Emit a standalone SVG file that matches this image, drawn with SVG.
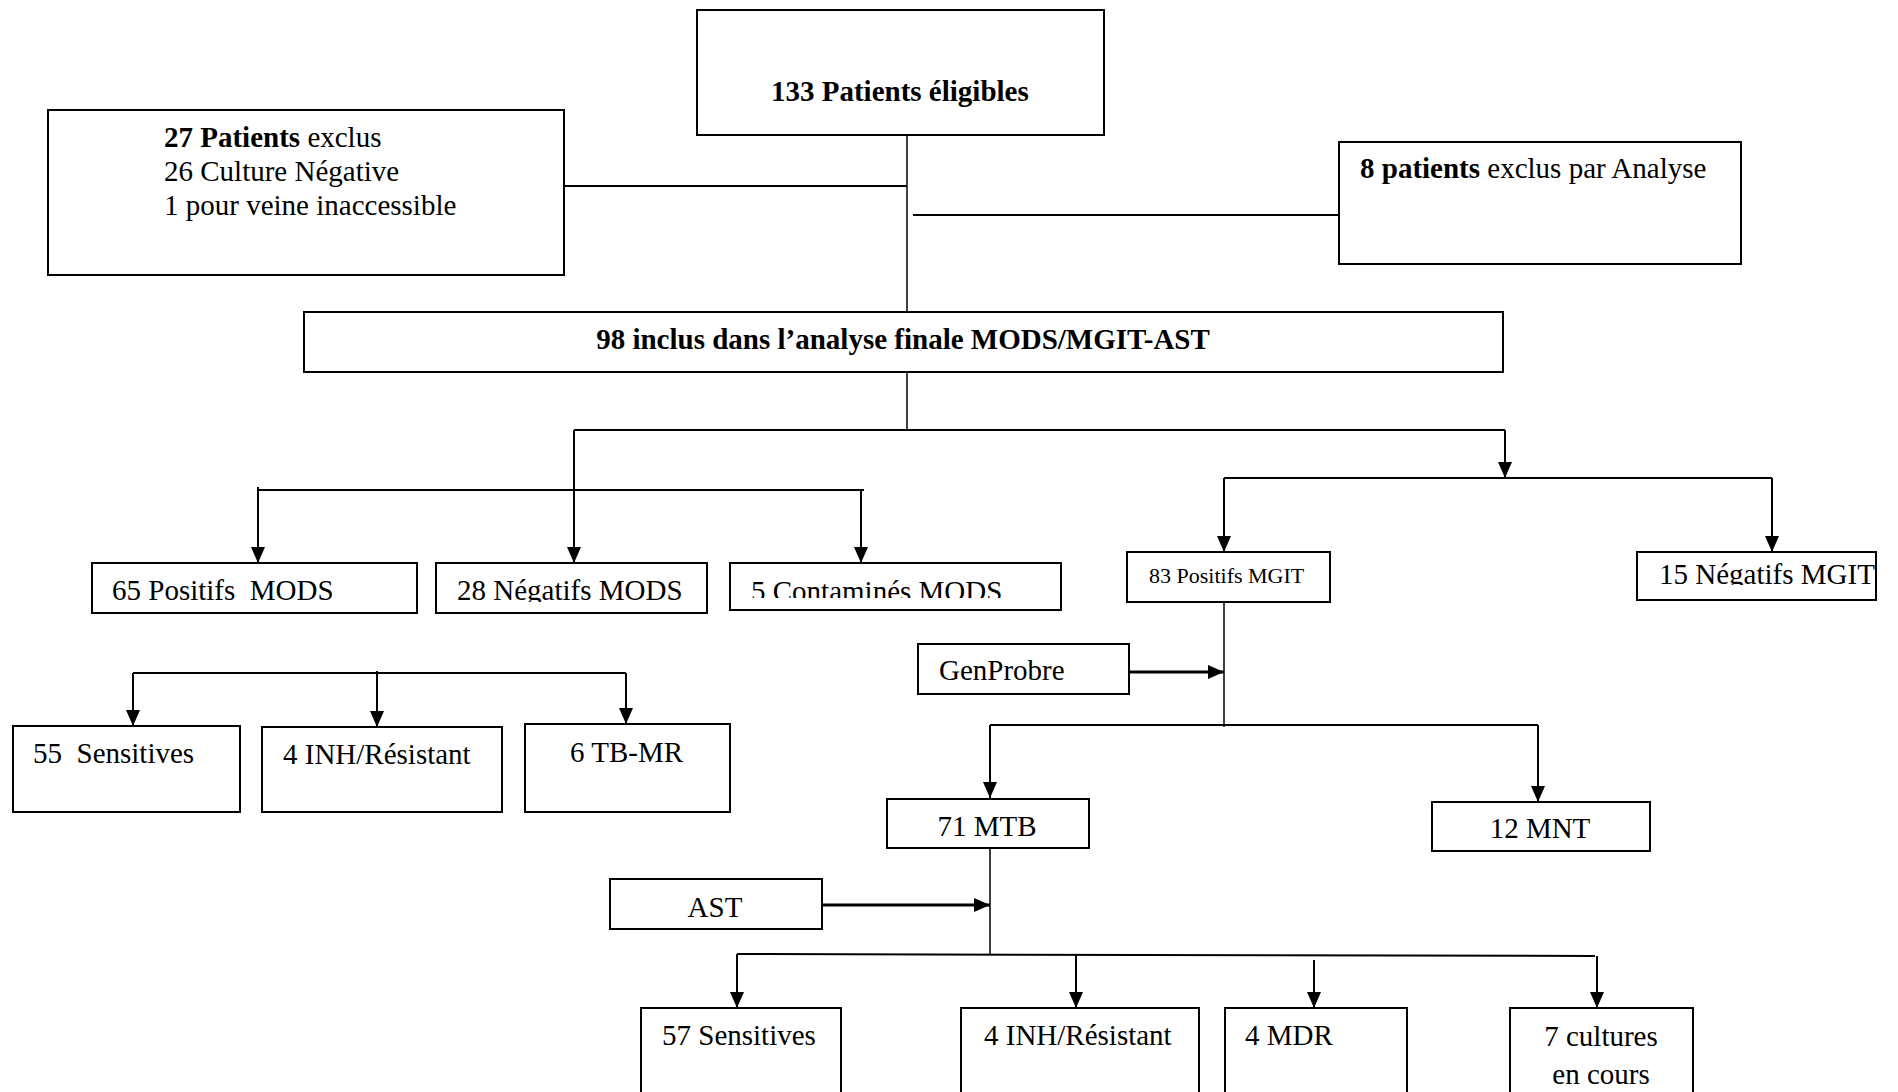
<svg xmlns="http://www.w3.org/2000/svg" width="1898" height="1092" viewBox="0 0 1898 1092">
<style>
  .box { fill: #fff; stroke: #000; stroke-width: 2; }
  .t { font-family: "Liberation Serif", "Times New Roman", serif; font-size: 29px; fill: #000; white-space: pre; }
  .b { font-weight: bold; }
  .s { font-size: 22px; }
  .c { text-anchor: middle; }
  .ln { fill: none; stroke: #000; stroke-width: 2; }
  .thin { stroke-width: 1.5; }
  .arr { fill: none; stroke: #000; stroke-width: 2; marker-end: url(#ah); }
</style>
<defs>
  <marker id="ah" markerUnits="userSpaceOnUse" markerWidth="16" markerHeight="14" viewBox="0 0 16 14" refX="16" refY="7" orient="auto">
    <path d="M0,0 L16,7 L0,14 z" fill="#000"/>
  </marker>
  <clipPath id="clipMods"><rect x="0" y="0" width="1898" height="602"/></clipPath>
  <clipPath id="clipCont"><rect x="0" y="0" width="1898" height="598"/></clipPath>
  <clipPath id="clipMgit"><rect x="0" y="0" width="1898" height="585"/></clipPath>
</defs>
<rect width="1898" height="1092" fill="#fff"/>

<g id="connectors">
  <line class="ln thin" x1="907" y1="135" x2="907" y2="312"/>
  <line class="ln" x1="564" y1="186" x2="907" y2="186"/>
  <line class="ln" x1="913" y1="215" x2="1339" y2="215"/>
  <line class="ln thin" x1="907" y1="372" x2="907" y2="430"/>
  <line class="ln" x1="574" y1="430" x2="1505" y2="430"/>
  <line class="arr" x1="574" y1="430" x2="574" y2="563"/>
  <line class="arr" x1="1505" y1="430" x2="1505" y2="478"/>
  <line class="ln" x1="258" y1="490" x2="864" y2="490"/>
  <line class="arr" x1="258" y1="487" x2="258" y2="563"/>
  <line class="arr" x1="861" y1="490" x2="861" y2="563"/>
  <line class="ln" x1="1224" y1="478" x2="1772" y2="478"/>
  <line class="arr" x1="1224" y1="478" x2="1224" y2="552"/>
  <line class="arr" x1="1772" y1="478" x2="1772" y2="552"/>
  <line class="ln thin" x1="1224" y1="602" x2="1224" y2="727"/>
  <line class="arr" x1="1129" y1="672" x2="1224" y2="672" style="stroke-width:3"/>
  <line class="ln" x1="990" y1="725" x2="1538" y2="725"/>
  <line class="arr" x1="990" y1="725" x2="990" y2="798"/>
  <line class="arr" x1="1538" y1="725" x2="1538" y2="802"/>
  <line class="ln thin" x1="990" y1="848" x2="990" y2="955"/>
  <line class="arr" x1="822" y1="905" x2="990" y2="905" style="stroke-width:3"/>
  <line class="ln" x1="737" y1="954" x2="1595" y2="956"/>
  <line class="arr" x1="737" y1="954" x2="737" y2="1008"/>
  <line class="arr" x1="1076" y1="954" x2="1076" y2="1008"/>
  <line class="arr" x1="1314" y1="960" x2="1314" y2="1008"/>
  <line class="arr" x1="1597" y1="956" x2="1597" y2="1008"/>
  <line class="ln" x1="133" y1="673" x2="626" y2="673"/>
  <line class="arr" x1="133" y1="673" x2="133" y2="726"/>
  <line class="arr" x1="377" y1="671" x2="377" y2="727"/>
  <line class="arr" x1="626" y1="673" x2="626" y2="724"/>
</g>

<g id="eligibles">
  <rect class="box" x="697" y="10" width="407" height="125"/>
  <text class="t b" x="771" y="101">133 Patients éligibles</text>
</g>
<g id="exclus27">
  <rect class="box" x="48" y="110" width="516" height="165"/>
  <text class="t" x="164" y="147"><tspan class="b">27 Patients</tspan> exclus</text>
  <text class="t" x="164" y="181">26 Culture Négative</text>
  <text class="t" x="164" y="215">1 pour veine inaccessible</text>
</g>
<g id="exclus8">
  <rect class="box" x="1339" y="142" width="402" height="122"/>
  <text class="t" x="1360" y="178"><tspan class="b">8 patients</tspan> exclus par Analyse</text>
</g>
<g id="inclus98">
  <rect class="box" x="304" y="312" width="1199" height="60"/>
  <text class="t b c" x="903" y="349">98 inclus dans l’analyse finale MODS/MGIT-AST</text>
</g>

<g id="positifsMods">
  <rect class="box" x="92" y="563" width="325" height="50"/>
  <text class="t" x="112" y="600" clip-path="url(#clipMods)">65 Positifs  MODS</text>
</g>
<g id="negatifsMods">
  <rect class="box" x="436" y="563" width="271" height="50"/>
  <text class="t" x="457" y="600" clip-path="url(#clipMods)">28 Négatifs MODS</text>
</g>
<g id="contaminesMods">
  <rect class="box" x="730" y="563" width="331" height="47"/>
  <text class="t" x="751" y="601" clip-path="url(#clipCont)">5 Contaminés MODS</text>
</g>
<g id="positifsMgit">
  <rect class="box" x="1127" y="552" width="203" height="50"/>
  <text class="t s" x="1149" y="583">83 Positifs MGIT</text>
</g>
<g id="negatifsMgit">
  <rect class="box" x="1637" y="552" width="239" height="48"/>
  <text class="t" x="1659" y="584" clip-path="url(#clipMgit)">15 Négatifs MGIT</text>
</g>
<g id="genprobre">
  <rect class="box" x="918" y="644" width="211" height="50"/>
  <text class="t" x="939" y="680">GenProbre</text>
</g>
<g id="mtb71">
  <rect class="box" x="887" y="799" width="202" height="49"/>
  <text class="t c" x="987" y="836">71 MTB</text>
</g>
<g id="mnt12">
  <rect class="box" x="1432" y="802" width="218" height="49"/>
  <text class="t c" x="1540" y="838">12 MNT</text>
</g>
<g id="ast">
  <rect class="box" x="610" y="879" width="212" height="50"/>
  <text class="t c" x="715" y="917">AST</text>
</g>
<g id="sens55">
  <rect class="box" x="13" y="726" width="227" height="86"/>
  <text class="t" x="33" y="763">55  Sensitives</text>
</g>
<g id="inh4a">
  <rect class="box" x="262" y="727" width="240" height="85"/>
  <text class="t" x="283" y="764">4 INH/Résistant</text>
</g>
<g id="tbmr6">
  <rect class="box" x="525" y="724" width="205" height="88"/>
  <text class="t" x="570" y="762">6 TB-MR</text>
</g>
<g id="sens57">
  <rect class="box" x="641" y="1008" width="200" height="100"/>
  <text class="t" x="662" y="1045">57 Sensitives</text>
</g>
<g id="inh4b">
  <rect class="box" x="961" y="1008" width="238" height="100"/>
  <text class="t" x="984" y="1045">4 INH/Résistant</text>
</g>
<g id="mdr4">
  <rect class="box" x="1225" y="1008" width="182" height="100"/>
  <text class="t" x="1245" y="1045">4 MDR</text>
</g>
<g id="cultures7">
  <rect class="box" x="1510" y="1008" width="183" height="100"/>
  <text class="t c" x="1601" y="1046">7 cultures</text>
  <text class="t c" x="1601" y="1084">en cours</text>
</g>
</svg>
